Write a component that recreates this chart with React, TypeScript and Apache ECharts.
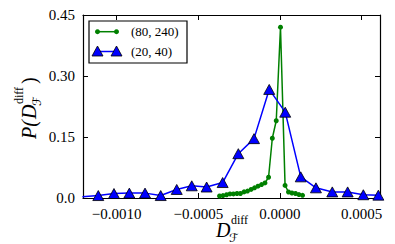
import React, { useEffect, useRef } from "react";
import * as echarts from "echarts";

const xTicks = [-0.001, -0.0005, 0, 0.0005];
const yTicks = [0, 0.15, 0.3, 0.45];
const xMin = -0.0012056;
const xMax = 0.000612;

const legendNames = ["(80, 240)", "(20, 40)"];

const greenX = [
  -0.00037, -0.000349, -0.000327, -0.000306, -0.000285, -0.000263, -0.000242, -0.00022,
  -0.000199, -0.000177, -0.000156, -0.000135, -0.000113, -0.000092, -0.00007, -0.000047,
  -0.000023, 0.000003, 0.000031, 0.000052, 0.000073, 0.000095, 0.000116, 0.000138,
];
const greenY = [
  0.005, 0.006, 0.008, 0.01, 0.01, 0.011, 0.011, 0.015, 0.017, 0.021, 0.025, 0.029, 0.033,
  0.037, 0.051, 0.147, 0.19, 0.42, 0.031, 0.0148, 0.0123, 0.011, 0.0084, 0.0066,
];

const blueX = [
  -0.001209, -0.001112, -0.001016, -0.000922, -0.000826, -0.00073, -0.000632, -0.00054,
  -0.000449, -0.000351, -0.000255, -0.000159, -0.000066, 0.000032, 0.000127, 0.00022,
  0.00032, 0.000414, 0.00051, 0.000602,
];
const blueY = [
  0.003, 0.006, 0.011, 0.012, 0.012, 0.006, 0.021, 0.03, 0.027, 0.038, 0.109, 0.146, 0.267,
  0.211, 0.052, 0.025, 0.015, 0.015, 0.008, 0.007,
];

const SERIF = '"Liberation Serif", "DejaVu Serif", serif';
const SCRIPT = '"DejaVu Serif", "DejaVu Sans", serif';

const fmtX = (v: number) => {
  if (Math.abs(v) < 1e-12) return "0.0000";
  return (v < 0 ? "\u2212" : "") + Math.abs(v).toFixed(4);
};
const fmtY = (v: number) => (Math.abs(v) < 1e-12 ? "0.0" : v.toFixed(2));

function axisLabelParts(): any[] {
  return [
    { type: "text", style: { text: "D", x: 0, y: 4, font: `italic 20px ${SERIF}`, fill: "#000", verticalAlign: "bottom" } },
    { type: "text", style: { text: "diff", x: 15, y: -10, font: `12px ${SERIF}`, fill: "#000", verticalAlign: "bottom" } },
    { type: "text", style: { text: "\u2131", x: 13, y: 8, font: `12px ${SCRIPT}`, fill: "#000", verticalAlign: "bottom" } },
  ];
}

export default function App() {
  const ref = useRef<HTMLDivElement>(null);
  useEffect(() => {
    if (!ref.current) return;
    const chart = echarts.init(ref.current, null, { renderer: "svg" });
    const tickStyle = { color: "#000", width: 1 };
    const option: any = {
      animation: false,
      backgroundColor: "#fff",
      grid: { left: 83, right: 15, top: 15, bottom: 46, show: false },
      xAxis: [
        {
          type: "value",
          min: xMin,
          max: xMax,
          position: "bottom",
          axisLine: { show: true, onZero: false, lineStyle: { color: "#000", width: 1.2 } },
          axisTick: { show: true, inside: true, length: 5, customValues: xTicks, lineStyle: tickStyle },
          axisLabel: { customValues: xTicks, formatter: fmtX, fontFamily: SERIF, fontSize: 15, color: "#000", margin: 8 },
          splitLine: { show: false },
        },
        {
          type: "value",
          min: xMin,
          max: xMax,
          position: "top",
          axisLine: { show: true, onZero: false, lineStyle: { color: "#000", width: 1.2 } },
          axisTick: { show: true, inside: true, length: 5, customValues: xTicks, lineStyle: tickStyle },
          axisLabel: { show: false },
          splitLine: { show: false },
        },
      ],
      yAxis: [
        {
          type: "value",
          min: 0,
          max: 0.45,
          interval: 0.15,
          position: "left",
          axisLine: { show: true, onZero: false, lineStyle: { color: "#000", width: 1.2 } },
          axisTick: { show: true, inside: true, length: 5, customValues: yTicks, lineStyle: tickStyle },
          axisLabel: { customValues: yTicks, formatter: fmtY, fontFamily: SERIF, fontSize: 15, color: "#000", margin: 8 },
          splitLine: { show: false },
        },
        {
          type: "value",
          min: 0,
          max: 0.45,
          interval: 0.15,
          position: "right",
          axisLine: { show: true, onZero: false, lineStyle: { color: "#000", width: 1.2 } },
          axisTick: { show: true, inside: true, length: 5, customValues: yTicks, lineStyle: tickStyle },
          axisLabel: { show: false },
          splitLine: { show: false },
        },
      ],
      series: [
        {
          name: legendNames[0],
          type: "line",
          xAxisIndex: 0,
          yAxisIndex: 0,
          data: greenX.map((x, i) => [x, greenY[i]]),
          symbol: "circle",
          symbolSize: 5,
          showAllSymbol: true,
          lineStyle: { color: "#008000", width: 1.5 },
          itemStyle: { color: "#008000", borderColor: "#008000", borderWidth: 0 },
          clip: true,
          z: 2,
        },
        {
          name: legendNames[1],
          type: "line",
          xAxisIndex: 0,
          yAxisIndex: 0,
          data: blueX.map((x, i) => [x, blueY[i]]),
          symbol: "triangle",
          symbolSize: [11, 10],
          showAllSymbol: true,
          lineStyle: { color: "#0000ff", width: 1.5 },
          itemStyle: { color: "#0000ff", borderColor: "#000", borderWidth: 0.8 },
          clip: true,
          z: 3,
        },
      ],
      graphic: [
        { type: "rect", shape: { x: 89, y: 21, width: 98, height: 42 }, style: { fill: "#fff", stroke: "#000", lineWidth: 1.2 }, z: 10 },
        { type: "line", shape: { x1: 97.5, y1: 31.7, x2: 116.5, y2: 31.7 }, style: { stroke: "#008000", lineWidth: 1.5 }, z: 11 },
        { type: "circle", shape: { cx: 97.5, cy: 31.7, r: 2.5 }, style: { fill: "#008000" }, z: 11 },
        { type: "circle", shape: { cx: 116.5, cy: 31.7, r: 2.5 }, style: { fill: "#008000" }, z: 11 },
        { type: "line", shape: { x1: 97.5, y1: 51.5, x2: 116.5, y2: 51.5 }, style: { stroke: "#0000ff", lineWidth: 1.5 }, z: 11 },
        { type: "polygon", shape: { points: [[92, 56], [103, 56], [97.5, 46]] }, style: { fill: "#0000ff", stroke: "#000", lineWidth: 0.8 }, z: 12 },
        { type: "polygon", shape: { points: [[111, 56], [122, 56], [116.5, 46]] }, style: { fill: "#0000ff", stroke: "#000", lineWidth: 0.8 }, z: 12 },
        { type: "text", style: { text: legendNames[0], x: 131, y: 31.7, font: `13px ${SERIF}`, fill: "#000", verticalAlign: "middle" }, z: 11 },
        { type: "text", style: { text: legendNames[1], x: 131, y: 51.5, font: `13px ${SERIF}`, fill: "#000", verticalAlign: "middle" }, z: 11 },
        { type: "group", x: 216, y: 236, children: axisLabelParts() },
        {
          type: "group",
          x: 35,
          y: 139,
          rotation: Math.PI / 2,
          children: [
            { type: "text", style: { text: "P(", x: 0, y: 4, font: `italic 20px ${SERIF}`, fill: "#000", verticalAlign: "bottom" } },
            { type: "text", style: { text: "D", x: 20, y: 4, font: `italic 20px ${SERIF}`, fill: "#000", verticalAlign: "bottom" } },
            { type: "text", style: { text: "diff", x: 35, y: -10, font: `12px ${SERIF}`, fill: "#000", verticalAlign: "bottom" } },
            { type: "text", style: { text: "\u2131", x: 33, y: 8, font: `12px ${SCRIPT}`, fill: "#000", verticalAlign: "bottom" } },
            { type: "text", style: { text: ")", x: 55, y: 4, font: `20px ${SERIF}`, fill: "#000", verticalAlign: "bottom" } },
          ],
        },
      ],
    };
    chart.setOption(option);
    return () => chart.dispose();
  }, []);
  return (
    <div
      ref={ref}
      style={{ position: "absolute", left: 0, top: 0, width: 395, height: 244 }}
    />
  );
}
